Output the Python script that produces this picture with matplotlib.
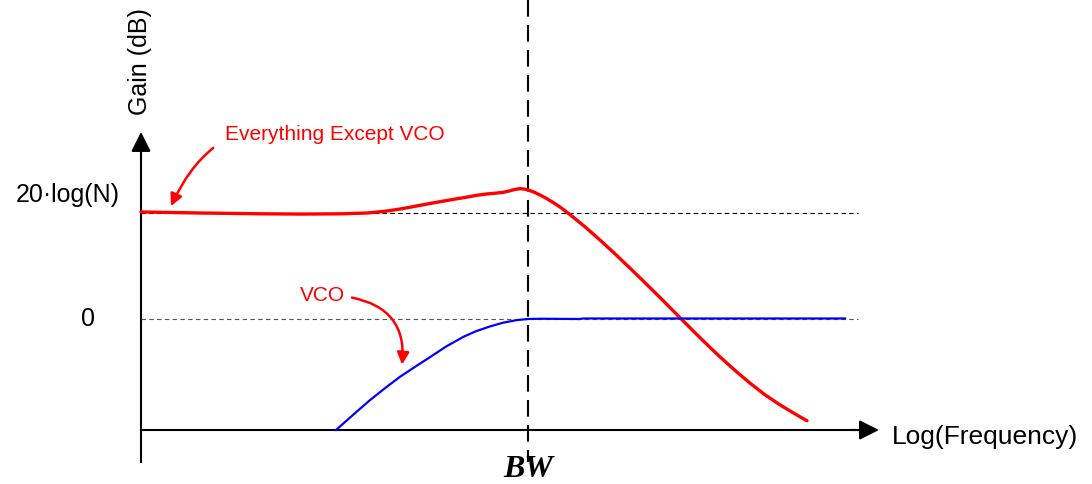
import matplotlib
matplotlib.use("Agg")
from matplotlib import pyplot as plt

plt.rcParams['font.family'] = ['Liberation Sans', 'DejaVu Sans']

# x = log frequency (arbitrary units), y = gain in dB with 20log(N) = 20
bw = 3.87
level_n = 20.0
floor_gain = -20.94

red_x = [0.0, 0.6, 1.2, 1.59, 2.0, 2.26, 2.45, 2.59, 2.75, 2.92, 3.1, 3.26, 3.36,
         3.46, 3.55, 3.62, 3.68, 3.74, 3.79, 3.84, 3.87, 3.93, 3.99, 4.05, 4.12,
         4.2, 4.29, 4.44, 4.59, 4.74, 4.89, 5.04, 5.19, 5.34, 5.49, 5.64, 5.79,
         5.94, 6.09, 6.24, 6.39, 6.54, 6.66]
red_y = [20.2, 20.0, 19.85, 19.8, 19.85, 20.0, 20.35, 20.75, 21.3, 21.9, 22.5, 23.0,
         23.35, 23.6, 23.75, 23.9, 24.15, 24.45, 24.6, 24.5, 24.35, 23.95, 23.4,
         22.8, 22.0, 21.0, 19.7, 17.4, 14.9, 12.3, 9.6, 6.85, 4.05, 1.2, -1.65,
         -4.45, -7.15, -9.7, -12.1, -14.3, -16.2, -17.9, -19.2]

blue_x = [1.95, 2.12, 2.29, 2.45, 2.59, 2.75, 2.89, 3.05, 3.22, 3.35, 3.49, 3.62,
          3.76, 3.87, 4.0, 4.39, 4.42, 7.04]
blue_y = [-20.94, -18.1, -15.3, -12.9, -10.9, -8.9, -7.2, -5.2, -3.4, -2.3, -1.4,
          -0.7, -0.2, 0.0, 0.05, 0.0, 0.1, 0.1]


def generate_pll_gain_sketch():
    fig = plt.figure(figsize=(10.92, 4.84), dpi=100)
    ax = fig.add_axes([0, 0, 1, 1])
    ax.set_xlim(-1.41, 9.51)
    ax.set_ylim(-31.13, 60.19)
    ax.axis('off')

    # axes with arrow heads
    ax.plot([0, 0], [-26.98, 33], color="black", lw=1.5)
    ax.annotate("", xy=(0, 35.3), xytext=(0, 31),
                arrowprops=dict(arrowstyle="-|>", color="black", lw=1.5,
                                mutation_scale=30, shrinkA=0, shrinkB=0))
    ax.plot([0, 7.2], [floor_gain, floor_gain], color="black", lw=1.5)
    ax.annotate("", xy=(7.38, floor_gain), xytext=(7.1, floor_gain),
                arrowprops=dict(arrowstyle="-|>", color="black", lw=1.5,
                                mutation_scale=30, shrinkA=0, shrinkB=0))

    # reference lines
    ax.plot([0, 7.17], [level_n, level_n], color="black", lw=0.8,
            linestyle=(0, (4, 3)))
    ax.plot([0, 7.17], [0, 0], color="#555555", lw=0.8,
            linestyle=(0, (4, 3)))
    ax.plot([bw, bw], [60.19, -26.98], color="black", lw=1.5,
            linestyle=(0, (8, 4)))

    # curves
    ax.plot(red_x, red_y, color="red", lw=2.4, solid_capstyle="round",
            solid_joinstyle="round")
    ax.plot(blue_x, blue_y, color="blue", lw=1.6, solid_joinstyle="round")

    # labels
    ax.text(-0.01, 48.5, "Gain (dB)", rotation=90, ha="center", va="center",
            fontsize=18)
    ax.text(-0.21, 23.4, "20·log(N)", ha="right", va="center", fontsize=18)
    ax.text(-0.53, 0, "0", ha="center", va="center", fontsize=18)
    ax.text(7.51, -22.3, "Log(Frequency)", ha="left", va="center", fontsize=19)
    ax.text(bw, -28.4, "BW", ha="center", va="center", fontsize=23,
            family="Liberation Serif", style="italic", weight="bold")

    # annotations
    ax.annotate("Everything Except VCO", xy=(0.30, 21.3), xytext=(0.84, 34.8),
                color="red", fontsize=15, ha="left", va="center",
                arrowprops=dict(arrowstyle="-|>", color="red", lw=1.8,
                                mutation_scale=18, shrinkA=8, shrinkB=0,
                                connectionstyle="arc3,rad=0.45"))
    ax.annotate("VCO", xy=(2.61, -8.6), xytext=(1.59, 4.4),
                color="red", fontsize=15, ha="left", va="center",
                arrowprops=dict(arrowstyle="-|>", color="red", lw=1.8,
                                mutation_scale=18, shrinkA=0, shrinkB=0,
                                relpos=(1.15, 0.4),
                                connectionstyle="arc3,rad=-0.45"))

    plt.savefig("out.png", dpi=100, facecolor="white")
    plt.close()


generate_pll_gain_sketch()
